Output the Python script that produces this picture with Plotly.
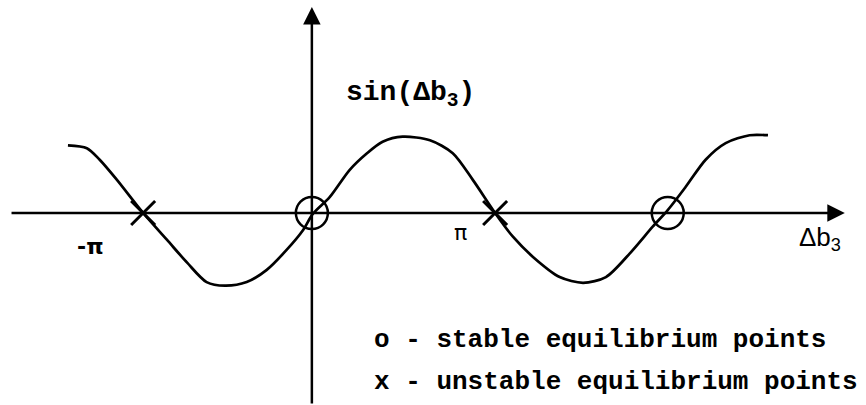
import plotly.graph_objects as go

# Hand-traced curve of sin(Δb3), x in radians, y in units of the amplitude
curve_x = [-4.38, -4.04, -3.81, -3.50, -3.03, -2.60, -2.24, -1.89, -1.56, -1.17,
           -0.81, -0.45, -0.16, 0.02, 0.32, 0.68, 0.99, 1.27, 1.63, 2.12,
           2.53, 2.89, 3.29, 3.61, 3.97, 4.45, 4.87, 5.28, 5.71, 6.12,
           6.39, 6.71, 7.07, 7.43, 7.86, 8.19]
curve_y = [0.94, 0.90, 0.74, 0.46, 0.00, -0.375, -0.69, -0.96, -1.01, -0.96,
           -0.79, -0.51, -0.24, -0.01, 0.22, 0.60, 0.83, 0.99, 1.06, 1.01,
           0.83, 0.46, 0.00, -0.33, -0.61, -0.89, -0.97, -0.89, -0.56, -0.19,
           0.04, 0.36, 0.74, 0.97, 1.08, 1.08]

# Equilibrium points where the curve crosses zero
stable_x = [0.0, 6.39]
stable_y = [0.0, 0.0]
unstable_x = [-3.03, 3.29]
unstable_y = [0.0, 0.0]

# Tick labels on the horizontal axis
tick_vals = [-3.14159, 3.14159]
tick_text = ["-π", "π"]

legend_lines = ["o - stable equilibrium points", "x - unstable equilibrium points"]

X_RANGE = [-5.60, 9.95]
Y_RANGE = [-2.667, 2.958]
H_AXIS = (-5.42, 9.57)   # horizontal axis tail / tip
V_AXIS = (-2.667, 2.86)  # vertical axis tail / tip

fig = go.Figure()

fig.add_trace(go.Scatter(x=curve_x, y=curve_y, mode="lines",
                         line=dict(color="black", width=2.7, shape="spline", smoothing=0.8),
                         hoverinfo="skip", showlegend=False))

fig.add_trace(go.Scatter(x=stable_x, y=stable_y, mode="markers",
                         marker=dict(symbol="circle-open", size=32, color="black",
                                     line=dict(width=2.5, color="black")),
                         showlegend=False))

fig.add_trace(go.Scatter(x=unstable_x, y=unstable_y, mode="markers",
                         marker=dict(symbol="x-thin-open", size=24, color="black",
                                     line=dict(width=3, color="black")),
                         showlegend=False))

annotations = []
# coordinate axes drawn as arrows
for tip, tail in (((H_AXIS[1], 0), (H_AXIS[0], 0)), ((0, V_AXIS[1]), (0, V_AXIS[0]))):
    annotations.append(dict(x=tip[0], y=tip[1], ax=tail[0], ay=tail[1], xref="x", yref="y",
                            axref="x", ayref="y", showarrow=True, arrowhead=2,
                            arrowsize=1.4, arrowwidth=2.5, arrowcolor="black", text=""))

# π tick labels below the axis
shifts = [-46, -26]
for v, t, s in zip(tick_vals, tick_text, shifts):
    bold = t.startswith("-")
    annotations.append(dict(x=v, y=0, xref="x", yref="y", showarrow=False,
                            text=f"<b>{t}</b>" if bold else t, xshift=s,
                            yshift=-34 if bold else -20,
                            font=dict(family="DejaVu Sans", size=22, color="black")))

# axis titles
annotations.append(dict(x=344 / 866, y=1 - 95 / 405, xref="paper", yref="paper",
                        xanchor="left", yanchor="middle", showarrow=False,
                        text="<b>sin(Δb<sub>3</sub>)</b>",
                        font=dict(family="Liberation Mono", size=28, color="black")))
annotations.append(dict(x=797 / 866, y=1 - 238 / 405, xref="paper", yref="paper",
                        xanchor="left", yanchor="middle", showarrow=False,
                        text="Δb<sub>3</sub>",
                        font=dict(family="Liberation Sans", size=26, color="black")))

# legend text
for i, line in enumerate(legend_lines):
    annotations.append(dict(x=372 / 866, y=1 - (340 + 42 * i) / 405, xref="paper", yref="paper",
                            xanchor="left", yanchor="middle", showarrow=False,
                            text=f"<b>{line}</b>",
                            font=dict(family="Liberation Mono", size=26, color="black")))

fig.update_layout(
    width=866, height=405,
    margin=dict(l=0, r=0, t=0, b=0),
    paper_bgcolor="white", plot_bgcolor="white",
    xaxis=dict(range=X_RANGE, visible=False, fixedrange=True),
    yaxis=dict(range=Y_RANGE, visible=False, fixedrange=True),
    annotations=annotations,
    showlegend=False,
)

fig.write_html("out.html")
